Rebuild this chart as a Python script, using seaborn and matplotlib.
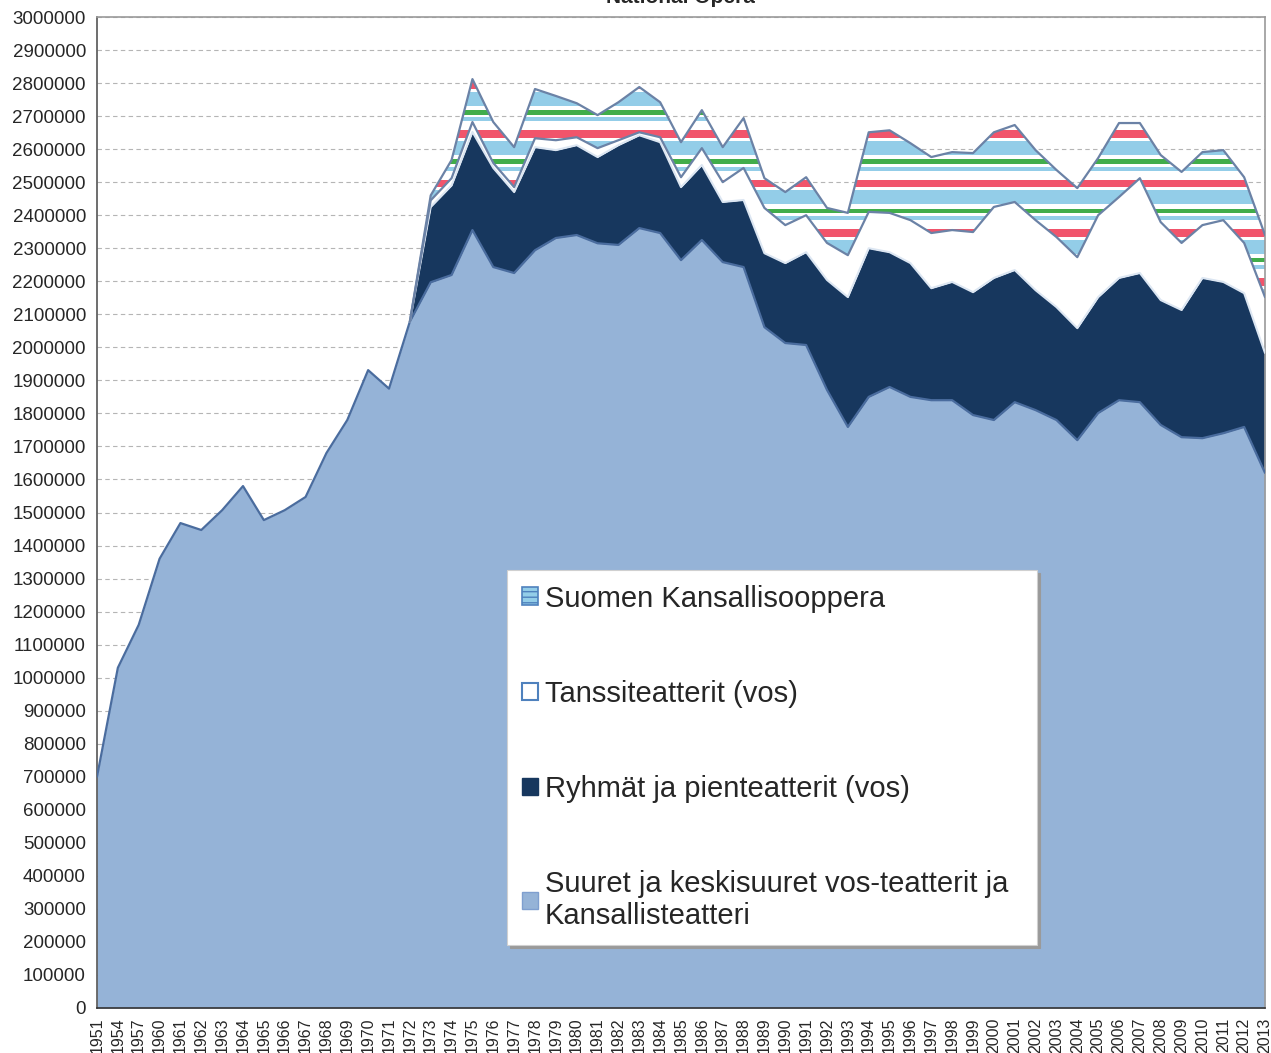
import matplotlib
matplotlib.use('Agg')
import matplotlib.pyplot as plt
import seaborn as sns
from matplotlib.patches import Patch
from matplotlib.ticker import FuncFormatter

# categories (x axis)
years = ['1951', '1954', '1957', '1960', '1961', '1962', '1963', '1964', '1965', '1966',
         '1967', '1968', '1969', '1970', '1971', '1972', '1973', '1974', '1975', '1976',
         '1977', '1978', '1979', '1980', '1981', '1982', '1983', '1984', '1985', '1986',
         '1987', '1988', '1989', '1990', '1991', '1992', '1993', '1994', '1995', '1996',
         '1997', '1998', '1999', '2000', '2001', '2002', '2003', '2004', '2005', '2006',
         '2007', '2008', '2009', '2010', '2011', '2012', '2013']

# Suuret ja keskisuuret vos-teatterit ja Kansallisteatteri
suuret = [700000, 1030000, 1160000, 1360000, 1468000, 1447000, 1507000, 1580000, 1477000, 1507000,
          1547000, 1680000, 1780000, 1931000, 1875000, 2078000, 2197000, 2219000, 2355000, 2243000,
          2225000, 2294000, 2331000, 2340000, 2315000, 2310000, 2361000, 2346000, 2264000, 2325000,
          2258000, 2243000, 2061000, 2013000, 2007000, 1871000, 1759000, 1850000, 1880000, 1850000,
          1840000, 1840000, 1795000, 1780000, 1834000, 1810000, 1780000, 1719000, 1801000, 1840000,
          1834000, 1765000, 1728000, 1725000, 1740000, 1759000, 1620000]

# Ryhmät ja pienteatterit (vos)
ryhmat = [0, 0, 0, 0, 0, 0, 0, 0, 0, 0,
          0, 0, 0, 0, 0, 0, 228000, 271000, 297000, 300000,
          245000, 312000, 266000, 272000, 261000, 302000, 281000, 275000, 221000, 227000,
          182000, 203000, 224000, 242000, 281000, 333000, 393000, 450000, 408000, 405000,
          339000, 358000, 372000, 430000, 400000, 363000, 342000, 339000, 351000, 370000,
          391000, 378000, 385000, 485000, 458000, 405000, 363000]

# Tanssiteatterit (vos)
tanssi = [0, 0, 0, 0, 0, 0, 0, 0, 0, 0,
          0, 0, 0, 0, 0, 0, 20000, 22000, 30000, 15000,
          15000, 27000, 30000, 24000, 27000, 15000, 9000, 15000, 30000, 51000,
          60000, 97000, 137000, 115000, 112000, 112000, 127000, 110000, 119000, 130000,
          167000, 157000, 182000, 215000, 206000, 212000, 212000, 215000, 248000, 245000,
          287000, 236000, 203000, 160000, 187000, 152000, 169000]

# Suomen Kansallisooppera
ooppera = [0, 0, 0, 0, 0, 0, 0, 0, 0, 0,
           0, 0, 0, 0, 0, 0, 15000, 55000, 130000, 124000,
           121000, 149000, 134000, 103000, 100000, 115000, 137000, 106000, 106000, 115000,
           106000, 151000, 90000, 100000, 115000, 106000, 128000, 241000, 250000, 233000,
           230000, 236000, 239000, 226000, 233000, 212000, 203000, 209000, 173000, 224000,
           167000, 203000, 215000, 221000, 212000, 199000, 188000]

labels = ['Suomen Kansallisooppera', 'Tanssiteatterit (vos)', 'Ryhmät ja pienteatterit (vos)',
          'Suuret ja keskisuuret vos-teatterit ja\nKansallisteatteri']

BASE_COLOR = '#95b3d7'
NAVY = '#17375e'
RED = '#f1546b'
GREEN = '#41ad4a'
LIGHT = '#93cde8'
EDGE = '#6b82a6'


def draw_stripes(ax, poly):
    # horizontal striped pattern of the opera series, clipped to its area
    clip = poly.get_paths()[0]
    spec = [(0, 24000, RED), (33000, 75000, LIGHT), (88000, 102000, GREEN), (110000, 122000, LIGHT)]
    for k in range(-6, 4):
        top = 2508000 + k * 149000
        for a, b, c in spec:
            span = ax.axhspan(top - b, top - a, color=c, lw=0, zorder=2.1)
            span.set_clip_path(clip, ax.transData)


def main():
    sns.set_style('white')
    plt.rcParams['font.family'] = ['Liberation Sans', 'DejaVu Sans']

    fig = plt.figure(figsize=(12.71, 10.53), dpi=100)
    ax = fig.add_axes([97 / 1271, 45 / 1053, 1168 / 1271, 991 / 1053])

    x = list(range(len(years)))
    c1 = suuret
    c2 = [a + b for a, b in zip(c1, ryhmat)]
    c3 = [a + b for a, b in zip(c2, tanssi)]
    c4 = [a + b for a, b in zip(c3, ooppera)]

    ax.fill_between(x, 0, c1, facecolor=BASE_COLOR, lw=0, zorder=2)
    ax.fill_between(x, c1, c2, facecolor=NAVY, lw=0, zorder=2)
    ax.fill_between(x, c2, c3, facecolor='white', lw=0, zorder=2)
    opoly = ax.fill_between(x, c3, c4, facecolor='white', lw=0, zorder=2)
    draw_stripes(ax, opoly)

    sns.lineplot(x=x, y=c1, ax=ax, color='#4a6c9e', lw=1.6, zorder=3)
    sns.lineplot(x=x[15:], y=c2[15:], ax=ax, color='#dce6f2', lw=1.5, zorder=3)
    sns.lineplot(x=x[15:], y=c3[15:], ax=ax, color=EDGE, lw=1.6, zorder=3)
    sns.lineplot(x=x[15:], y=c4[15:], ax=ax, color=EDGE, lw=1.6, zorder=3)

    ax.set_xlim(0, len(years) - 1)
    ax.set_ylim(0, 3000000)
    ax.set_yticks(range(0, 3000001, 100000))
    ax.yaxis.set_major_formatter(FuncFormatter(lambda v, p: '%d' % v))
    ax.set_xticks(x)
    ax.set_xticklabels(years, rotation=90, fontsize=11.5)
    ax.tick_params(axis='y', labelsize=13.5, length=4, direction='out', color='#555555', pad=4)
    ax.tick_params(axis='x', length=4, direction='out', color='#555555', pad=3)
    ax.grid(axis='y', color='#b5b5b5', lw=0.8, ls=(0, (4, 3)), zorder=0)
    ax.set_axisbelow(True)
    for side, col in [('left', '#555555'), ('bottom', '#333333'), ('top', '#9a9a9a'), ('right', '#9a9a9a')]:
        ax.spines[side].set_visible(True)
        ax.spines[side].set_color(col)
        ax.spines[side].set_linewidth(1.2)

    # title sits partly above the top edge, as in the original
    fig.text(0.535, 0.997, 'National Opera', ha='center', va='baseline', fontsize=15, fontweight='bold')

    handles = [Patch(facecolor=LIGHT, edgecolor='#4f81bd', hatch='---', lw=1.2),
               Patch(facecolor='white', edgecolor='#4f81bd', lw=1.5),
               Patch(facecolor=NAVY, edgecolor=NAVY),
               Patch(facecolor=BASE_COLOR, edgecolor='#7f9fcf')]
    leg = ax.legend(handles, labels, loc='upper left', bbox_to_anchor=(0.351, 0.07, 0.454, 0.372),
                    mode='expand', fontsize=21, frameon=True, fancybox=False,
                    shadow={'color': '#9a9a9a', 'alpha': 1.0},
                    labelspacing=2.3, handlelength=0.55, handleheight=0.55, handletextpad=0.25,
                    borderpad=0.5, borderaxespad=0)
    leg.get_frame().set_edgecolor('#d0d0d0')
    leg.get_frame().set_linewidth(0.8)
    leg.set_zorder(5)

    fig.savefig('out.png', dpi=100)


if __name__ == '__main__':
    main()
